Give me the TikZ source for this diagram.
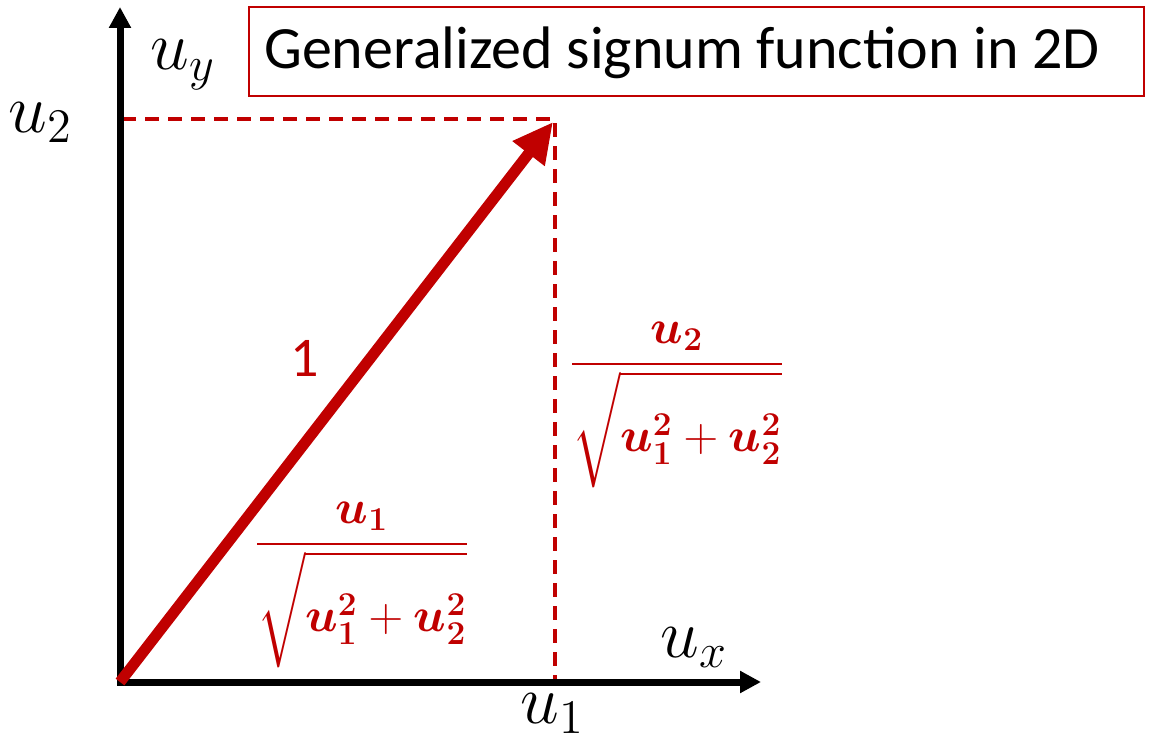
\documentclass[tikz,border=0pt]{standalone}
\usepackage{amsmath,bm}
\usepackage{fontspec}
\setmainfont{Carlito}
\usetikzlibrary{arrows.meta}
\definecolor{dred}{HTML}{C00000}
\newcommand{\sqstrut}{\rule[-12pt]{0pt}{38pt}}
\tikzset{
  axis/.style={line width=7pt, -{Triangle[length=21pt,width=21pt]}},
  vec/.style={dred, line width=11pt, -{Triangle[length=40pt,width=38pt]}},
  guide/.style={dred, line width=3.5pt, dash pattern=on 14pt off 9pt},
  axlabel/.style={font=\fontsize{20.74}{24}\selectfont, inner sep=0pt, scale=3.35, transform shape},
  frac/.style={text=dred, font=\fontsize{17.28}{20}\selectfont, inner sep=0pt, scale=2.78, transform shape},
}
\begin{document}
\begin{tikzpicture}[x=1pt,y=-1pt]
\useasboundingbox (0,0) rectangle (1166,749);
\coordinate (O) at (120,682);
\coordinate (Ytip) at (120,7);
\coordinate (Xtip) at (761,682);
\coordinate (P) at (555,119);
\coordinate (Q) at (122,119);
\coordinate (R) at (555,682);
\coordinate (Vtip) at (553,122);
% title box
\node[draw=dred, line width=2pt, minimum width=895pt, minimum height=89pt, anchor=north west, inner sep=0pt] (box) at (248,6) {};
\node[anchor=base west, inner sep=0pt, font=\fontsize{60}{66}\selectfont] (title) at (264,69) {Generalized signum function in 2D};
% guides
\draw[guide] (Q) -- (P) -- (R);
% axes
\draw[axis] (O) -- (Ytip);
\draw[axis] ([xshift=-3.5pt]O) -- (Xtip);
% vector
\draw[vec] (O) -- (Vtip);
% labels
\node[axlabel, anchor=base west] (uy) at (150,70) {$u_y$};
\node[axlabel, anchor=base west] (u2) at (8,132) {$u_2$};
\node[axlabel, anchor=base west] (ux) at (660,657) {$u_x$};
\node[axlabel, anchor=base west] (u1) at (520,723) {$u_1$};
\node[text=dred, font=\fontsize{56}{60}\selectfont, inner sep=0pt] (one) at (305,358) {1};
\node[frac, anchor=base] (f1) at (362,556) {$\displaystyle\frac{\bm{u_1}}{\sqrt{\sqstrut\bm{u}_{\bm 1}^{\bm 2}+\bm{u}_{\bm 2}^{\bm 2}}}$};
\node[frac, anchor=base] (f2) at (677,376) {$\displaystyle\frac{\bm{u_2}}{\sqrt{\sqstrut\bm{u}_{\bm 1}^{\bm 2}+\bm{u}_{\bm 2}^{\bm 2}}}$};
\end{tikzpicture}
\end{document}
